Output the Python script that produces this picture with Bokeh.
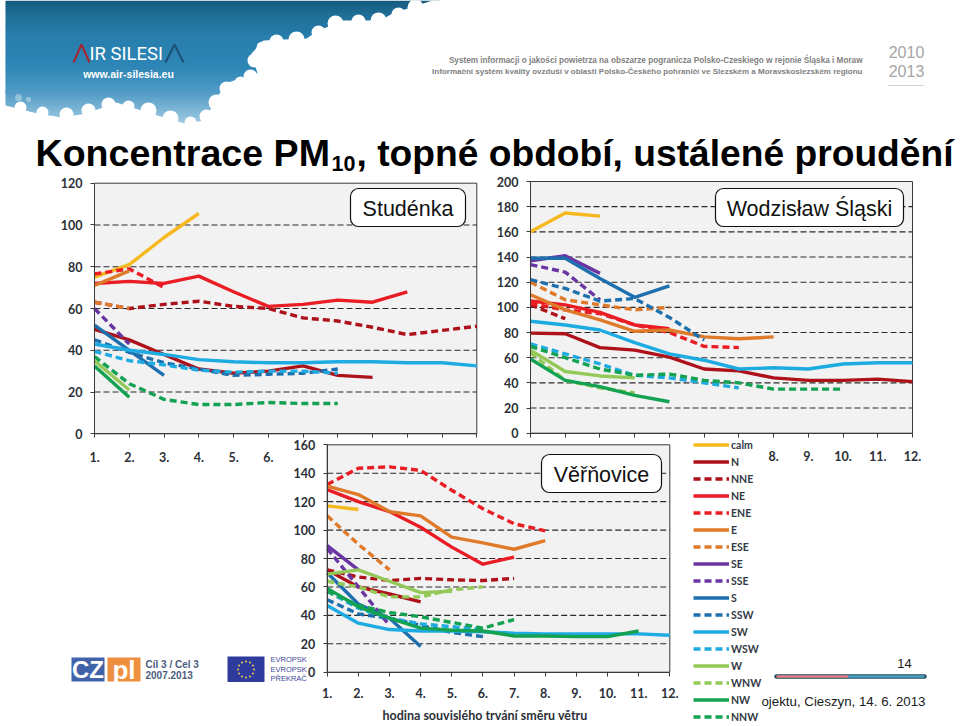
from bokeh.plotting import figure
from bokeh.embed import file_html
from bokeh.resources import INLINE
from bokeh.core.properties import value
from bokeh.models import (Range1d, LinearAxis, FixedTicker, Legend, LegendItem,
                          BoxAnnotation, Label)

# ---------------- data ----------------
HOURS = [1, 2, 3, 4, 5, 6, 7, 8, 9, 10, 11, 12]
HOUR_LABELS = ["1.", "2.", "3.", "4.", "5.", "6.", "7.", "8.", "9.", "10.", "11.", "12."]
DIRECTIONS = ["calm", "N", "NNE", "NE", "ENE", "E", "ESE", "SE", "SSE", "S", "SSW", "SW",
              "WSW", "W", "WNW", "NW", "NNW"]
Y_TICKS_STUDENKA = [0, 20, 40, 60, 80, 100, 120]
Y_TICKS_WODZISLAW = [0, 20, 40, 60, 80, 100, 120, 140, 160, 180, 200]
Y_TICKS_VERNOVICE = [0, 20, 40, 60, 80, 100, 120, 140, 160]

# Studénka
ST_CALM = [75, 81, 94, 105.5]
ST_N = [50, 45, 38, 31, 29, 30, 32.5, 28, 27]
ST_NNE = [63, 60, 62, 63.5, 61, 60, 55.5, 54, 51, 47.5, 49.5, 51.5]
ST_NE = [72, 73, 72, 75.5, 68, 61, 62, 64, 63, 68]
ST_ENE = [76.5, 79, 70]
ST_E = [71, 78]
ST_ESE = [63, 60]
ST_SE = []
ST_SSE = [60, 43]
ST_S = [52, 40, 28]
ST_SSW = [45, 39, 34, 31, 28, 28.5, 29, 31]
ST_SW = [43, 40, 38, 35.5, 34.5, 34, 34, 34.5, 34.5, 34, 34, 32.5]
ST_WSW = [39.5, 35, 33, 30.5, 29.5, 30, 30, 29]
ST_W = [35, 21]
ST_WNW = []
ST_NW = [32.5, 17.5]
ST_NNW = [37, 24, 16.5, 14, 14, 15, 14.5, 14.5]

# Wodzisław Śląski
WO_CALM = [160, 175, 172.5]
WO_N = [79.5, 79, 68, 66, 60.5, 51, 49.5, 44, 42, 42, 43, 41]
WO_NNE = [102, 91]
WO_NE = [105, 102, 96, 86, 83]
WO_ENE = [103, 98, 95, 86, 80, 69, 68]
WO_E = [110, 98, 90, 81, 82, 76.5, 75, 76.5]
WO_ESE = [120, 106, 102, 98, 100]
WO_SE = [137, 141, 127]
WO_SSE = [134, 128, 106]
WO_S = [139, 139, 123, 108, 117]
WO_SSW = [122, 115, 105, 107, 92, 74]
WO_SW = [89, 86, 82, 72, 63, 58, 51, 52, 51, 55, 56, 56]
WO_WSW = [71, 63, 55, 46, 44, 40, 36]
WO_W = [66, 49, 45.5, 44]
WO_WNW = [64, 42, 36, 32]
WO_NW = [59, 42, 37, 30, 25]
WO_NNW = [69, 60, 51, 46, 47, 42, 40, 35, 35, 35]

# Věřňovice
VE_CALM = [117, 114.5]
VE_N = [72, 60, 55, 49.5]
VE_NNE = [72, 67, 64.5, 66, 65, 64.5, 66]
VE_NE = [128.5, 120, 113, 102, 88, 76, 81]
VE_ENE = [132, 143.5, 144.5, 142, 128, 115, 104.5, 99.5]
VE_E = [131, 125, 113, 110, 95, 91, 86.5, 92.5]
VE_ESE = [110, 90, 72]
VE_SE = [89, 72]
VE_SSE = [87, 60, 33]
VE_S = [70, 48, 38, 18]
VE_SSW = [51, 41, 38, 33, 28, 25]
VE_SW = [47, 34.5, 30, 29, 29, 28.5, 27.5, 27, 27, 27, 27, 26]
VE_WSW = [57, 45, 38, 34, 32, 30]
VE_W = [69, 72, 64, 56, 57]
VE_WNW = [64, 60, 53, 53, 58, 60]
VE_NW = [59, 46, 38, 31, 29.5, 29, 25.5, 25.5, 25, 25, 29]
VE_NNW = [57, 47, 42, 39, 35, 31, 37]

STUDENKA = [ST_CALM, ST_N, ST_NNE, ST_NE, ST_ENE, ST_E, ST_ESE, ST_SE, ST_SSE, ST_S, ST_SSW, ST_SW,
            ST_WSW, ST_W, ST_WNW, ST_NW, ST_NNW]
WODZISLAW = [WO_CALM, WO_N, WO_NNE, WO_NE, WO_ENE, WO_E, WO_ESE, WO_SE, WO_SSE, WO_S, WO_SSW, WO_SW,
             WO_WSW, WO_W, WO_WNW, WO_NW, WO_NNW]
VERNOVICE = [VE_CALM, VE_N, VE_NNE, VE_NE, VE_ENE, VE_E, VE_ESE, VE_SE, VE_SSE, VE_S, VE_SSW, VE_SW,
             VE_WSW, VE_W, VE_WNW, VE_NW, VE_NNW]

# ---------------- styles ----------------
C_YEL, C_DRED, C_RED, C_ORA, C_PUR, C_BLU, C_SKY, C_LIM, C_GRN = (
    "#f5b81f", "#ad1119", "#ea1c24", "#df7a2a", "#6a35a3", "#1d6fae", "#1dabe2", "#93c957", "#13a152")
COLORS = [C_YEL, C_DRED, C_DRED, C_RED, C_RED, C_ORA, C_ORA, C_PUR, C_PUR, C_BLU, C_BLU, C_SKY, C_SKY,
          C_LIM, C_LIM, C_GRN, C_GRN]
DASHED = [False, False, True, False, True, False, True, False, True, False, True, False, True,
          False, True, False, True]

# page frame (pixels in the browser window)
FX0, FX1, FY0, FY1 = 0, 960, 0, 726

p = figure(width=FX1 - FX0, height=FY1 - FY0, output_backend="svg", toolbar_location=None,
           x_axis_type=None, y_axis_type=None, min_border=0, outline_line_color=None,
           x_range=Range1d(FX0, FX1), y_range=Range1d(FY1, FY0),
           background_fill_color="white", border_fill_color="white")
p.grid.visible = False


def txt(x, y, s, size, color="#000000", font="Liberation Sans", style="normal", align="left", angle=0):
    p.text(x=[x], y=[y], text=[s], text_font=value(font), text_font_size=f"{size}px",
           text_font_style=style, text_color=color, text_align=align, text_baseline="middle", angle=angle)


# ---------------- header: sky + clouds ----------------
SKY_KEYS = [(0, (22, 92, 128)), (12, (30, 110, 150)), (35, (40, 126, 172)), (65, (46, 134, 182)),
            (90, (80, 155, 198)), (125, (170, 208, 230))]
for i in range(len(SKY_KEYS) - 1):
    (y0, c0), (y1, c1) = SKY_KEYS[i], SKY_KEYS[i + 1]
    for y in range(y0, y1, 3):
        f = (y - y0) / (y1 - y0)
        col = "#%02x%02x%02x" % tuple(int(a + (b - a) * f) for a, b in zip(c0, c1))
        p.quad(left=[5], right=[440], top=[y], bottom=[y + 3.5], fill_color=col, line_color=None)

CLOUD_X = [450, 432, 392, 380, 343, 318, 306, 263, 251, 257, 227, 214, 205, 184, 147, 116, 86, 61, 37, 5, 0, 0, 450]
CLOUD_Y = [0, 0, 13, 20, 20, 30, 38, 40, 53, 73, 82, 100, 120, 123, 112, 102, 113, 117, 113, 105, 105, 140, 140]
p.patch(CLOUD_X, CLOUD_Y, fill_color="white", line_color=None)
# cloud puffs on the sky edge
PUFF_X = [415, 398, 378, 358, 335, 318, 296, 276, 262, 254, 250, 240, 226, 216, 206, 190, 170, 148, 128, 108, 88, 66, 42, 20]
PUFF_Y = [7, 14, 20, 21, 23, 32, 39, 41, 47, 60, 76, 82, 88, 102, 116, 122, 118, 110, 106, 104, 110, 114, 112, 107]
PUFF_R = [8, 7, 8, 7, 8, 7, 8, 7, 6, 7, 7, 6, 7, 8, 7, 6, 8, 8, 6, 7, 7, 7, 6, 6]
p.scatter(PUFF_X, PUFF_Y, size=[r * 2 for r in PUFF_R], marker="circle", fill_color="white",
          fill_alpha=1, line_color=None)
p.scatter([18, 28], [97, 99], size=[7, 5], marker="circle", fill_color="white", fill_alpha=0.35, line_color=None)

# logo of the project
p.line([73, 81, 89], [62, 44, 62], line_color="#a8232f", line_width=2)
txt(89, 53, "IR SILESI", 18.5, "white", "Roboto")
p.line([165, 174, 183], [62, 44, 62], line_color="#1d4f72", line_width=2)
txt(128, 73, "www.air-silesia.eu", 10.5, "white", style="bold", align="center")

txt(862, 60, "System informacji o jakości powietrza na obszarze pogranicza Polsko-Czeskiego w rejonie Śląska i Moraw",
    8.2, "#7f7f7f", style="bold", align="right")
txt(862, 71, "Informační systém kvality ovzduší v oblasti Polsko-Českého pohraničí ve Slezském a Moravskoslezském regionu",
    8, "#7f7f7f", style="bold", align="right")
txt(906, 51, "2010", 16, "#a5a5a5", align="center")
txt(906, 70, "2013", 16, "#a5a5a5", align="center")
p.line([888, 923], [85, 85], line_color="#cfcfcf", line_width=1)

# title
txt(35, 152, "Koncentrace PM", 37.6, style="bold")
txt(331, 163, "10", 21.5, style="bold")
txt(356, 152, ", topné období, ustálené proudění", 37.2, style="bold")


# ---------------- charts ----------------
def add_chart(key, box, ymax, yticks, series, standoff, hidden):
    x_left, x_right, y_top, y_bottom = box
    sx = (HOURS[-1] - HOURS[0]) / (x_right - x_left)
    sy = ymax / (y_bottom - y_top)
    xn, yn = "x" + key, "y" + key
    p.extra_x_ranges[xn] = Range1d(HOURS[0] + (FX0 - x_left) * sx, HOURS[0] + (FX1 - x_left) * sx)
    p.extra_y_ranges[yn] = Range1d((y_bottom - FY1) * sy, (y_bottom - FY0) * sy)
    kw = dict(x_range_name=xn, y_range_name=yn)
    p.quad(left=[HOURS[0]], right=[HOURS[-1]], top=[ymax], bottom=[0], fill_color="#f2f2f2",
           line_color="#3a3a3a", line_width=1, **kw)
    for g in yticks[1:-1]:
        p.line([HOURS[0], HOURS[-1]], [g, g], line_color="#2b2b2b", line_width=1.1, line_dash=[6, 3], **kw)
    out = {}
    for name, vals, col, dash in zip(DIRECTIONS, series, COLORS, DASHED):
        if not vals:
            continue
        out[name] = p.line(HOURS[:len(vals)], vals, line_color=col, line_width=3.4,
                           line_dash=[7, 4] if dash else "solid", line_join="round", **kw)
    ya = LinearAxis(fixed_location=HOURS[0], bounds=(0, ymax), ticker=FixedTicker(ticks=yticks), **kw)
    xa = LinearAxis(fixed_location=0, bounds=(HOURS[0], HOURS[-1]), ticker=FixedTicker(ticks=HOURS), **kw)
    xa.major_label_overrides = {h: ("" if h in hidden else l) for h, l in zip(HOURS, HOUR_LABELS)}
    for ax in (xa, ya):
        ax.major_label_text_font = "Lato"
        ax.major_label_text_font_style = "bold"
        ax.major_label_text_font_size = "12.5px"
        ax.major_label_text_color = "#2b3038"
        ax.axis_line_color = "#3a3a3a"
        ax.major_tick_line_color = "#3a3a3a"
        ax.major_tick_in = 0
        ax.major_tick_out = 4
        ax.minor_tick_line_color = None
    xa.major_label_standoff = standoff
    ya.major_label_standoff = 8
    p.add_layout(ya, "left")
    p.add_layout(xa, "below")
    return out


add_chart("1", (94, 476.3, 182.7, 433.3), 120, Y_TICKS_STUDENKA, STUDENKA, 14, {7, 8, 9, 10, 11, 12})
legend_src = add_chart("2", (530, 912, 181, 432.7), 200, Y_TICKS_WODZISLAW, WODZISLAW, 14, {1, 2, 3, 4, 5, 6, 7})
add_chart("3", (326.7, 669.3, 444.3, 671.7), 160, Y_TICKS_VERNOVICE, VERNOVICE, 12, set())

txt(484.5, 715, "hodina souvislého trvání směru větru", 12.5, "#2b3038", "Lato", "bold", "center")

# legend
legend = Legend(items=[LegendItem(label=d, renderers=[legend_src[d]]) for d in DIRECTIONS],
                location=(693, 1), orientation="vertical", glyph_width=36, glyph_height=17,
                label_height=17, spacing=0, padding=0, margin=0, label_standoff=2,
                background_fill_alpha=0, border_line_color=None,
                label_text_font="Lato", label_text_font_size="10.5px", label_text_font_style="bold",
                label_text_color="#333a44", label_text_baseline="middle")
p.add_layout(legend, "center")

# name boxes
NAME_BOXES = [("Studénka", 350, 465, 188, 226), ("Wodzisław Śląski", 715, 903, 188, 226), ("Věřňovice", 541, 661, 454, 492)]
for name, l, r, t, b in NAME_BOXES:
    p.add_layout(BoxAnnotation(left=l, right=r, top=t, bottom=b, fill_color="white", fill_alpha=1,
                               line_color="#111111", line_width=1.2, line_alpha=1, border_radius=8))
    p.add_layout(Label(x=(l + r) / 2, y=(t + b) / 2 + 1, text=name, text_align="center", text_baseline="middle",
                       text_font="Liberation Sans", text_font_size="21.5px", text_color="#111111"))

# ---------------- footer ----------------
p.quad(left=[71], right=[104], top=[657], bottom=[681], fill_color="#3f62a8", line_color=None)
p.quad(left=[107], right=[140], top=[657], bottom=[681], fill_color="#ee8f3f", line_color=None)
txt(87.5, 669, "CZ", 24, "white", style="bold", align="center")
txt(123.5, 669, "pl", 26, "white", style="bold", align="center")
txt(145, 664, "Cíl 3 / Cel 3", 10, "#4b5d7e", style="bold")
txt(145, 674, "2007.2013", 10, "#4b5d7e", style="bold")
p.quad(left=[227], right=[264], top=[656], bottom=[681.5], fill_color="#2f3a9d", line_color=None)
STAR_X = [245.5, 249.5, 252.5, 253.5, 252.5, 249.5, 245.5, 241.5, 238.5, 237.5, 238.5, 241.5]
STAR_Y = [661, 662, 665, 669, 673, 676, 677, 676, 673, 669, 665, 662]
p.scatter(STAR_X, STAR_Y, marker="circle", size=2, fill_color="#e6d44a", line_color=None)
txt(270, 659, "EVROPSK", 7.5, "#44469a")
txt(270, 668.5, "EVROPSK", 7.5, "#44469a")
txt(270, 678, "PŘEKRAČ", 7.5, "#44469a")

txt(904, 663, "14", 13, "#1a1a1a", align="center")
p.line([776, 924], [676, 676], line_color="#23495c", line_width=4.5, line_cap="round")
p.line([776, 848], [676, 676], line_color="#e9808a", line_width=2.6)
p.line([848, 924], [676, 676], line_color="#49a5c6", line_width=2.6)
txt(925, 701, "ojektu, Cieszyn, 14. 6. 2013", 13.3, "#1a1a1a", align="right")

open("out.html", "w").write(file_html(p, INLINE))
